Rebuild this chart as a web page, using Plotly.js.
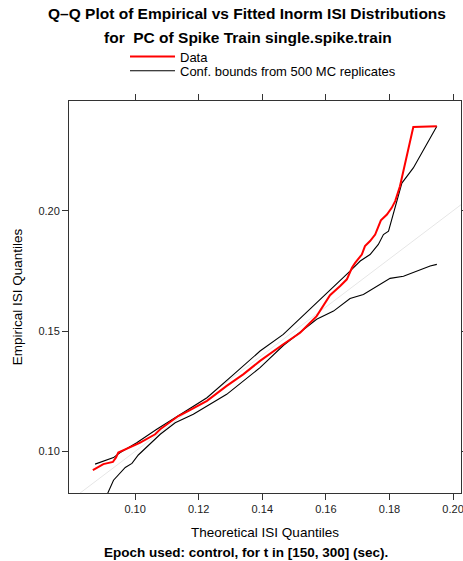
<!DOCTYPE html>
<html>
<head>
<meta charset="utf-8">
<script src="https://cdn.plot.ly/plotly-3.0.1.min.js"></script>
<style>html,body{margin:0;padding:0;background:#fff;}#chart{width:463px;height:561px;}</style>
</head>
<body>
<div id="chart"></div>
<script>
// Empirical (data) quantiles vs theoretical quantiles
const dataX = [0.0867,0.0900,0.0930,0.0940,0.0947,0.0974,0.1016,0.1063,0.1079,0.1136,0.1168,0.1226,0.1288,0.1340,0.1393,0.1466,0.1519,0.1571,0.1613,0.1645,0.1666,0.1682,0.1692,0.1713,0.1723,0.1739,0.1755,0.1773,0.1792,0.1807,0.1818,0.1833,0.1875,0.1949];
const dataY = [0.0922,0.0947,0.0956,0.0975,0.0995,0.1012,0.1036,0.1071,0.1092,0.1147,0.1168,0.1210,0.1272,0.1320,0.1376,0.1445,0.1493,0.1562,0.1649,0.1687,0.1715,0.1763,0.1783,0.1818,0.1853,0.1874,0.1901,0.1960,0.1984,0.2012,0.2040,0.2102,0.2348,0.2351];
// Upper confidence bound
const upperX = [0.0874,0.0932,0.0953,0.1005,0.1068,0.1150,0.1226,0.1310,0.1393,0.1466,0.1571,0.1624,0.1676,0.1708,0.1739,0.1765,0.1781,0.1797,0.1812,0.1823,0.1839,0.1875,0.1949];
const upperY = [0.0947,0.0974,0.0995,0.1036,0.1092,0.1160,0.1223,0.1320,0.1417,0.1486,0.1617,0.1680,0.1749,0.1791,0.1818,0.1860,0.1901,0.1915,0.1984,0.2040,0.2115,0.2178,0.2351];
// Lower confidence bound
const lowerX = [0.0905,0.0932,0.0969,0.0990,0.1010,0.1047,0.1079,0.1126,0.1183,0.1288,0.1393,0.1466,0.1571,0.1624,0.1676,0.1718,0.1760,0.1802,0.1844,0.1928,0.1949];
const lowerY = [0.0800,0.0880,0.0933,0.0950,0.0985,0.1030,0.1071,0.1119,0.1154,0.1237,0.1348,0.1440,0.1549,0.1583,0.1635,0.1652,0.1687,0.1719,0.1728,0.1770,0.1777];
// Identity reference line
const refX = [0.07, 0.21];
const refY = [0.07, 0.21];
const xTicks = [0.10, 0.12, 0.14, 0.16, 0.18, 0.20];
const yTicks = [0.10, 0.15, 0.20];

const FONT = 'Liberation Sans, Arial, Helvetica, sans-serif';

const traces = [
  {x: refX, y: refY, mode: 'lines', line: {color: '#e6e6e6', width: 1}, showlegend: false, hoverinfo: 'skip'},
  {x: lowerX, y: lowerY, mode: 'lines', line: {color: '#000', width: 1.1}, showlegend: false},
  {x: upperX, y: upperY, mode: 'lines', line: {color: '#000', width: 1.1}, name: 'Conf. bounds from 500 MC replicates', legend: 'legend2'},
  {x: dataX, y: dataY, mode: 'lines', line: {color: '#ff0000', width: 2}, name: 'Data', legend: 'legend'}
];

const axisCommon = {
  showline: true, linecolor: '#333', linewidth: 1, mirror: 'allticks',
  ticks: 'outside', ticklen: 6, tickcolor: '#333', tickwidth: 1,
  showgrid: false, zeroline: false, ticklabeloverflow: 'allow',
  tickfont: {family: FONT, size: 11, color: '#222'}
};

const layout = {
  width: 463, height: 561,
  margin: {l: 69, r: 2, t: 101, b: 68},
  paper_bgcolor: '#fff', plot_bgcolor: '#fff',
  font: {family: FONT, color: '#000'},
  title: {text: 'Q\u2013Q Plot of Empirical vs Fitted Inorm ISI Distributions', font: {family: FONT, size: 15.5, weight: 'bold'}, x: 0.5335, xanchor: 'center', y: 1 - 14/561, yanchor: 'middle', xref: 'container', yref: 'container'},
  xaxis: Object.assign({}, axisCommon, {range: [0.0792, 0.2025], tickvals: xTicks, tickformat: '.2f',
    title: {text: 'Theoretical ISI Quantiles', font: {family: FONT, size: 13.5}, standoff: 13}}),
  yaxis: Object.assign({}, axisCommon, {range: [0.0827, 0.2456], tickvals: yTicks, tickformat: '.2f',
    title: {text: 'Empirical ISI Quantiles', font: {family: FONT, size: 13.5}, standoff: 12}}),
  showlegend: true,
  legend: {x: (125-69)/392, y: (493-56.5)/392, xanchor: 'left', yanchor: 'middle', bgcolor: 'rgba(0,0,0,0)', itemwidth: 45, font: {family: FONT, size: 13}},
  legend2: {x: (125-69)/392, y: (493-70.8)/392, xanchor: 'left', yanchor: 'middle', bgcolor: 'rgba(0,0,0,0)', itemwidth: 45, font: {family: FONT, size: 13}},
  annotations: [
    {text: 'for \u00a0PC of Spike Train single.spike.train', xref: 'paper', yref: 'paper', x: (248-69)/392, y: (493-38)/392, xanchor: 'center', yanchor: 'middle', showarrow: false, font: {family: FONT, size: 15.5, weight: 'bold'}},
    {text: 'Epoch used: control, for t in [150, 300] (sec).', xref: 'paper', yref: 'paper', x: (246-69)/392, y: (493-552.5)/392, xanchor: 'center', yanchor: 'middle', showarrow: false, font: {family: FONT, size: 13.5, weight: 'bold'}}
  ]
};

Plotly.newPlot('chart', traces, layout, {displayModeBar: false, staticPlot: true});
</script>
</body>
</html>
